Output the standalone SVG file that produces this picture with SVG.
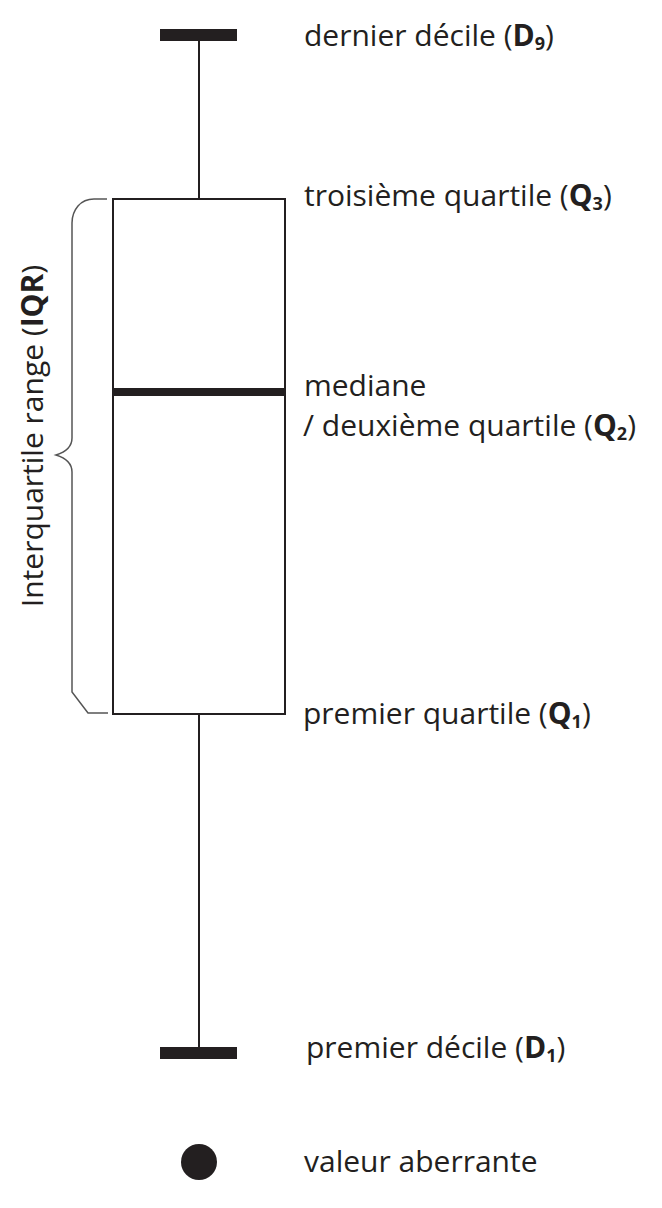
<svg xmlns="http://www.w3.org/2000/svg" width="662" height="1208" viewBox="0 0 662 1208">
<style>
.lbl{font-family:"Open Sans","Liberation Sans",sans-serif;font-size:30px;fill:#231f20}
.b{font-weight:bold}
.sub{font-size:18px;font-weight:bold}
.ln{stroke:#231f20;stroke-width:2;fill:none}
.cap{fill:#231f20}
</style>
<rect width="662" height="1208" fill="#ffffff"/>
<g id="connectors">
<line class="ln" x1="199" y1="40" x2="199" y2="199"/>
<line class="ln" x1="199" y1="714" x2="199" y2="1050"/>
</g>
<g id="box">
<rect class="ln" x="113" y="199" width="172" height="515"/>
<rect class="cap" x="113" y="388" width="172" height="8"/>
</g>
<g id="d9">
<rect class="cap" x="160" y="29" width="77" height="12"/>
<text class="lbl" x="304" y="46">dernier décile (<tspan class="b">D</tspan><tspan class="sub" dy="4">9</tspan><tspan dy="-4">)</tspan></text>
</g>
<g id="q3">
<text class="lbl" x="304" y="206">troisième quartile (<tspan class="b">Q</tspan><tspan class="sub" dy="4">3</tspan><tspan dy="-4">)</tspan></text>
</g>
<g id="q2">
<text class="lbl" x="304" y="396">mediane</text>
<text class="lbl" x="303" y="436">/ deuxième quartile (<tspan class="b">Q</tspan><tspan class="sub" dy="4">2</tspan><tspan dy="-4">)</tspan></text>
</g>
<g id="q1">
<text class="lbl" x="303" y="724">premier quartile (<tspan class="b">Q</tspan><tspan class="sub" dy="4">1</tspan><tspan dy="-4">)</tspan></text>
</g>
<g id="d1">
<rect class="cap" x="160" y="1047" width="77" height="12"/>
<text class="lbl" x="306" y="1058">premier décile (<tspan class="b">D</tspan><tspan class="sub" dy="4">1</tspan><tspan dy="-4">)</tspan></text>
</g>
<g id="outlier">
<circle class="cap" cx="199" cy="1162" r="18"/>
<text class="lbl" x="304" y="1172">valeur aberrante</text>
</g>
<g id="iqr">
<path d="M107,199 H94 Q84,199 78,206 Q72,213 72,223 V438 Q72,450 56,455 Q72,460 72,472 V692 L88,713 H108" fill="none" stroke="#555" stroke-width="1.5"/>
<text class="lbl" transform="translate(43,436) rotate(-90)" text-anchor="middle">Interquartile range (<tspan class="b">IQR</tspan>)</text>
</g>
</svg>
